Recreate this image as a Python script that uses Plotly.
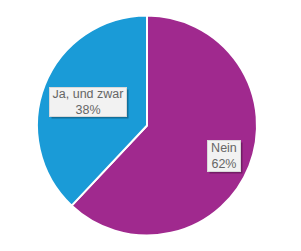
import math
import plotly.graph_objects as go

labels = ["Nein", "Ja, und zwar"]
values = [62, 38]
colors = ["#A0298E", "#1A9BD7"]
label_radius = [0.75, 0.58]
box_sizes = [(28, 26), (72, 24)]

W, H = 301, 251
cx, cy, R = 147, 125.5, 110

fig = go.Figure(go.Pie(
    labels=labels, values=values, sort=False, direction="clockwise", rotation=0,
    marker=dict(colors=colors, line=dict(color="white", width=2)),
    textinfo="none", hoverinfo="label+percent", showlegend=False,
    domain=dict(x=[(cx - R) / W, (cx + R) / W], y=[(H - cy - R) / H, (H - cy + R) / H]),
))

font = dict(family="Liberation Sans, Arial", size=12.5, color="#666666")
total = sum(values)
start = 0.0
for lab, v, rf, (bw, bh) in zip(labels, values, label_radius, box_sizes):
    mid = start + v / total * 180
    start += v / total * 360
    a = math.radians(mid)
    px = cx + rf * R * math.sin(a)
    py = cy - rf * R * math.cos(a)
    text = f"{lab}<br>{round(v / total * 100)}%"
    # shadow
    fig.add_annotation(x=(px + 2) / W, y=1 - (py + 2) / H, xref="paper", yref="paper",
                       xanchor="center", yanchor="middle", width=bw, height=bh,
                       text=" ", showarrow=False, font=font,
                       bgcolor="rgba(0,0,0,0.28)", borderpad=2, borderwidth=1,
                       bordercolor="rgba(0,0,0,0)")
    fig.add_annotation(x=px / W, y=1 - py / H, xref="paper", yref="paper",
                       xanchor="center", yanchor="middle", width=bw, height=bh,
                       text=text, showarrow=False, font=font,
                       bgcolor="#F2F2F2", bordercolor="#D8D8D8", borderwidth=1, borderpad=2)

fig.update_layout(width=W, height=H, margin=dict(l=0, r=0, t=0, b=0),
                  paper_bgcolor="white", plot_bgcolor="white")
fig.write_html("out.html")
